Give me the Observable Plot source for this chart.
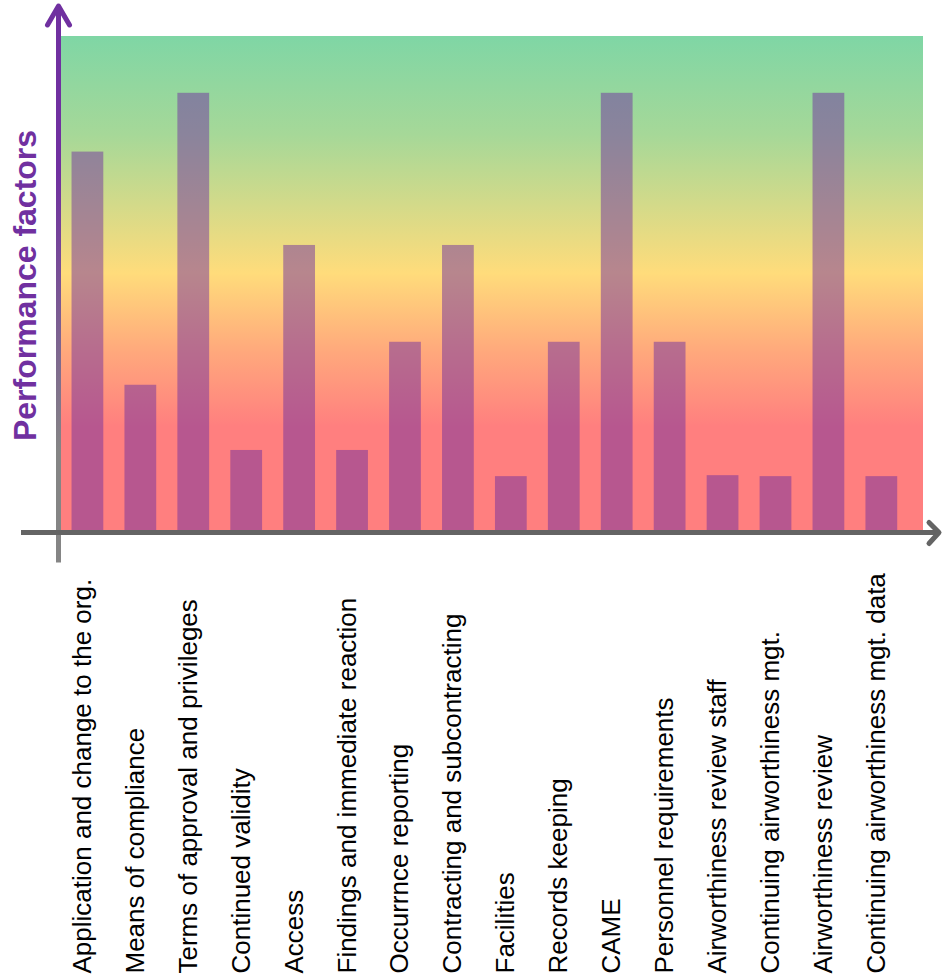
<!DOCTYPE html>
<html>
<head>
<meta charset="utf-8">
<script src="https://cdn.jsdelivr.net/npm/d3@7"></script>
<script src="https://cdn.jsdelivr.net/npm/@observablehq/plot@0.6"></script>
<style>
  html, body { margin: 0; padding: 0; background: #ffffff; }
</style>
</head>
<body>
<div id="chart"></div>
<script>
const categories = [
  "Application and change to the org.",
  "Means of compliance",
  "Terms of approval and privileges",
  "Continued validity",
  "Access",
  "Findings and immediate reaction",
  "Occurrnce reporting",
  "Contracting and subcontracting",
  "Facilities",
  "Records keeping",
  "CAME",
  "Personnel requirements",
  "Airworthiness review staff",
  "Continuing airworthiness mgt.",
  "Airworthiness review",
  "Continuing airworthiness mgt. data"
];
const values = [76.6, 29.4, 88.5, 16.2, 57.7, 16.2, 38.1, 57.7, 10.9, 38.1, 88.5, 38.1, 11.1, 10.9, 88.5, 10.9];
const yMax = 100;
const yLabel = "Performance factors";

const data = categories.map((c, i) => ({name: c, value: values[i]}));

const PURPLE = "#7030A0";
const AXIS_GRAY = "#646464";

function background(index, scales, vals, dims) {
  const {width, marginLeft, marginRight} = dims;
  const y = scales.y;
  const g = d3.create("svg:g");
  const defs = g.append("defs");
  const lg = defs.append("linearGradient")
    .attr("id", "bg-grad").attr("x1", 0).attr("y1", 0).attr("x2", 0).attr("y2", 1);
  [[0, "#7fd6a5"], [0.2, "#a6d898"], [0.48, "#ffdc7b"], [0.64, "#ffa87c"], [0.79, "#ff7f7f"], [1, "#ff7f7f"]]
    .forEach(([o, c]) => lg.append("stop").attr("offset", o).attr("stop-color", c));
  g.append("rect")
    .attr("x", marginLeft)
    .attr("y", y(yMax))
    .attr("width", width - marginLeft - marginRight)
    .attr("height", y(0) - y(yMax))
    .attr("fill", "url(#bg-grad)");
  return g.node();
}

function axes(index, scales, vals, dims) {
  const {width, marginLeft} = dims;
  const y = scales.y;
  const base = y(0) + 2.5;
  const ax = marginLeft - 2.5;
  const top = 6;
  const g = d3.create("svg:g").attr("fill", "none");
  const defs = g.append("defs");
  const lg = defs.append("linearGradient")
    .attr("id", "yaxis-grad").attr("gradientUnits", "userSpaceOnUse")
    .attr("x1", 0).attr("y1", top).attr("x2", 0).attr("y2", base + 30);
  [[0, PURPLE], [0.3, PURPLE], [0.8, "#858585"], [1, "#858585"]]
    .forEach(([o, c]) => lg.append("stop").attr("offset", o).attr("stop-color", c));
  g.append("line")
    .attr("x1", ax).attr("x2", ax)
    .attr("y1", base + 30).attr("y2", top + 1)
    .attr("stroke", "url(#yaxis-grad)").attr("stroke-width", 5);
  g.append("polyline")
    .attr("points", `${ax - 11},${top + 19} ${ax},${top} ${ax + 11},${top + 19}`)
    .attr("stroke", PURPLE).attr("stroke-width", 5)
    .attr("stroke-linecap", "round").attr("stroke-linejoin", "round");
  const xEnd = width - 4;
  g.append("line")
    .attr("x1", 21).attr("x2", xEnd - 1)
    .attr("y1", base).attr("y2", base)
    .attr("stroke", AXIS_GRAY).attr("stroke-width", 5);
  g.append("polyline")
    .attr("points", `${xEnd - 10},${base - 10} ${xEnd},${base} ${xEnd - 10},${base + 11}`)
    .attr("stroke", AXIS_GRAY).attr("stroke-width", 5)
    .attr("stroke-linecap", "round").attr("stroke-linejoin", "round");
  return g.node();
}

const chart = Plot.plot({
  width: 943,
  height: 980,
  marginTop: 36,
  marginBottom: 450,
  marginLeft: 61,
  marginRight: 20,
  style: {fontFamily: "'Liberation Sans', Arial, sans-serif", background: "#ffffff"},
  x: {domain: categories, axis: null, round: false, paddingInner: 0.4, paddingOuter: 0.343, align: 0.29},
  y: {domain: [0, yMax], axis: null},
  marks: [
    background,
    Plot.barY(data, {x: "name", y1: 0, y2: "value", fill: PURPLE, fillOpacity: 0.5, insetBottom: -3}),
    axes,
    Plot.text(categories, {
      x: d => d,
      text: d => d,
      frameAnchor: "bottom",
      rotate: -90,
      textAnchor: "start",
      dx: 3,
      dy: 443,
      fontSize: 26,
      fill: "#000000"
    }),
    Plot.text([yLabel], {
      text: d => d,
      frameAnchor: "left",
      rotate: -90,
      textAnchor: "middle",
      dx: -36,
      dy: 2,
      fontSize: 32,
      fontWeight: "bold",
      fill: PURPLE
    })
  ]
});

document.getElementById("chart").append(chart);
</script>
</body>
</html>
